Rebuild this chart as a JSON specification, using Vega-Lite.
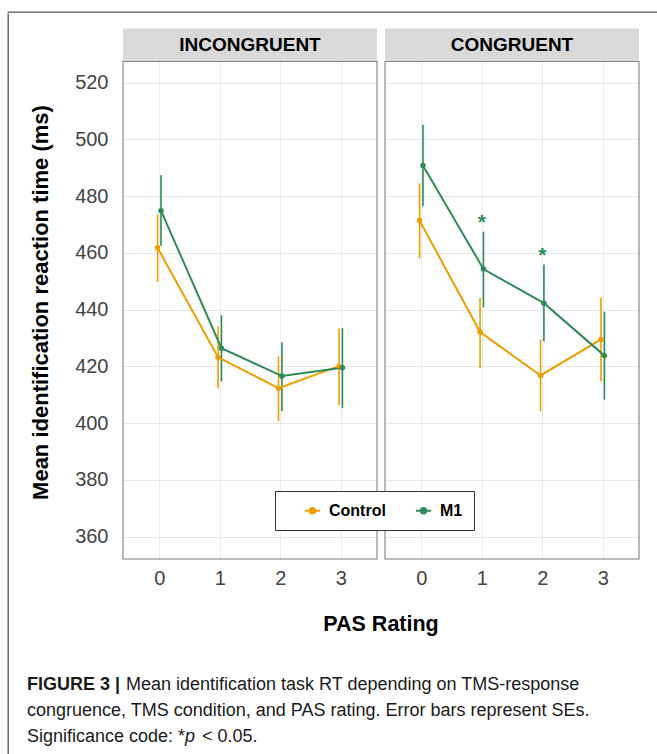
{
  "$schema": "https://vega.github.io/schema/vega-lite/v6.json",
  "background": "white",
  "padding": {"left": 7, "top": 11, "right": 0, "bottom": 0},
  "autosize": {"type": "pad"},
  "config": {
    "font": "Liberation Sans",
    "view": {"stroke": null},
    "legend": {
      "orient": "none",
      "legendX": 267,
      "legendY": 479,
      "direction": "horizontal",
      "strokeColor": "#333333",
      "fillColor": "white",
      "padding": 11,
      "labelFontSize": 16,
      "labelFontWeight": "bold",
      "labelColor": "black",
      "symbolSize": 225,
      "symbolStrokeWidth": 2,
      "symbolOffset": 18,
      "columnPadding": 11,
      "labelOffset": 8,
      "symbolType": "M-1,0H1M-0.36,0A0.36,0.36,0,1,1,0.36,0A0.36,0.36,0,1,1,-0.36,0Z"
    }
  },
  "datasets": {
    "main": [
      {"kind": "strip", "panel": "INCONGRUENT"},
      {"kind": "strip", "panel": "CONGRUENT"},
      {"kind": "rt", "panel": "INCONGRUENT", "cond": "Control", "pas": 0, "mean": 461.8, "lo": 449.8, "hi": 473.6},
      {"kind": "rt", "panel": "INCONGRUENT", "cond": "Control", "pas": 1, "mean": 423.2, "lo": 412.3, "hi": 434.2},
      {"kind": "rt", "panel": "INCONGRUENT", "cond": "Control", "pas": 2, "mean": 412.3, "lo": 400.8, "hi": 423.6},
      {"kind": "rt", "panel": "INCONGRUENT", "cond": "Control", "pas": 3, "mean": 420.1, "lo": 406.3, "hi": 433.4},
      {"kind": "rt", "panel": "INCONGRUENT", "cond": "M1", "pas": 0, "mean": 474.9, "lo": 462.5, "hi": 487.4},
      {"kind": "rt", "panel": "INCONGRUENT", "cond": "M1", "pas": 1, "mean": 426.4, "lo": 414.7, "hi": 438.1},
      {"kind": "rt", "panel": "INCONGRUENT", "cond": "M1", "pas": 2, "mean": 416.6, "lo": 404.2, "hi": 428.5},
      {"kind": "rt", "panel": "INCONGRUENT", "cond": "M1", "pas": 3, "mean": 419.5, "lo": 405.3, "hi": 433.5},
      {"kind": "rt", "panel": "CONGRUENT", "cond": "Control", "pas": 0, "mean": 471.4, "lo": 458.1, "hi": 484.5},
      {"kind": "rt", "panel": "CONGRUENT", "cond": "Control", "pas": 1, "mean": 432.1, "lo": 419.4, "hi": 444.2},
      {"kind": "rt", "panel": "CONGRUENT", "cond": "Control", "pas": 2, "mean": 416.8, "lo": 404.2, "hi": 429.5},
      {"kind": "rt", "panel": "CONGRUENT", "cond": "Control", "pas": 3, "mean": 429.5, "lo": 414.7, "hi": 444.3},
      {"kind": "rt", "panel": "CONGRUENT", "cond": "M1", "pas": 0, "mean": 490.8, "lo": 476.5, "hi": 505.2},
      {"kind": "rt", "panel": "CONGRUENT", "cond": "M1", "pas": 1, "mean": 454.3, "lo": 440.8, "hi": 467.5},
      {"kind": "rt", "panel": "CONGRUENT", "cond": "M1", "pas": 2, "mean": 442.3, "lo": 428.8, "hi": 455.9},
      {"kind": "rt", "panel": "CONGRUENT", "cond": "M1", "pas": 3, "mean": 423.8, "lo": 408.3, "hi": 439.3},
      {"kind": "star", "panel": "CONGRUENT", "pas": 1, "ystar": 470.5, "label": "*"},
      {"kind": "star", "panel": "CONGRUENT", "pas": 2, "ystar": 459, "label": "*"}
    ],
    "caption": [
      {"line": 1, "seg": "bold", "text": "FIGURE 3 |"},
      {"line": 1, "seg": "rest1", "text": "Mean identification task RT depending on TMS-response"},
      {"line": 2, "seg": "plain", "text": "congruence, TMS condition, and PAS rating. Error bars represent SEs."},
      {"line": 3, "seg": "plain", "text": "Significance code: *"},
      {"line": 3, "seg": "ital", "text": "p"},
      {"line": 3, "seg": "rest3", "text": "< 0.05."}
    ]
  },
  "spacing": 0,
  "vconcat": [
    {
      "width": 650,
      "height": 0.01,
      "data": {"values": [{}]},
      "mark": {"type": "point", "opacity": 0, "size": 0},
      "encoding": {},
      "view": {"stroke": "#555555", "strokeWidth": 1.3}
    },
    {
      "spacing": 18,
      "hconcat": [
        {
          "width": 0.01,
          "height": 743,
          "data": {"values": [{}]},
          "mark": {"type": "point", "opacity": 0, "size": 0},
          "encoding": {},
          "view": {"stroke": "#555555", "strokeWidth": 1.3}
        },
        {
          "spacing": 36,
          "vconcat": [
            {
              "data": {"name": "main"},
              "facet": {
                "column": {
                  "field": "panel",
                  "type": "nominal",
                  "sort": ["INCONGRUENT", "CONGRUENT"],
                  "title": "PAS Rating",
                  "header": {
                    "labels": false,
                    "titleOrient": "bottom",
                    "titleFontSize": 21.5,
                    "titleFontWeight": "bold",
                    "titleColor": "black",
                    "titlePadding": 16
                  }
                }
              },
              "spacing": {"column": 6},
              "spec": {
                "width": 254,
                "height": 545,
                "layer": [
                  {
                    "transform": [{"filter": "datum.kind === 'strip'"}],
                    "mark": {"type": "rect", "fill": "#d9d9d9"},
                    "encoding": {
                      "x": {"datum": -0.6, "type": "quantitative", "scale": {"domain": [-0.6, 3.6], "nice": false, "zero": false}, "title": null},
                      "x2": {"datum": 3.6},
                      "y": {"datum": 527.5, "type": "quantitative", "scale": {"domain": [352.1, 544.24], "nice": false, "zero": false}, "title": "Mean identification reaction time (ms)"},
                      "y2": {"datum": 539.2}
                    }
                  },
                  {
                    "transform": [{"filter": "datum.kind === 'strip'"}],
                    "mark": {"type": "rect", "fill": "white"},
                    "encoding": {
                      "x": {"datum": -0.6, "type": "quantitative", "title": null},
                      "x2": {"datum": 3.6},
                      "y": {"datum": 539.2, "type": "quantitative", "title": "Mean identification reaction time (ms)"},
                      "y2": {"datum": 544.24}
                    }
                  },
                  {
                    "transform": [{"filter": "datum.kind === 'strip'"}],
                    "mark": {"type": "text", "fontSize": 19, "fontWeight": "bold", "color": "black", "baseline": "middle", "align": "center"},
                    "encoding": {
                      "x": {"datum": 1.5, "type": "quantitative", "title": null},
                      "y": {"datum": 533.35, "type": "quantitative", "title": "Mean identification reaction time (ms)"},
                      "text": {"field": "panel"}
                    }
                  },
                  {
                    "transform": [{"filter": "datum.kind === 'strip'"}],
                    "mark": {"type": "rect", "fill": "transparent", "stroke": "#7f7f7f", "strokeWidth": 1.1},
                    "encoding": {
                      "x": {"datum": -0.6, "type": "quantitative", "title": null},
                      "x2": {"datum": 3.6},
                      "y": {"datum": 352.1, "type": "quantitative", "title": "Mean identification reaction time (ms)"},
                      "y2": {"datum": 527.5}
                    }
                  },
                  {
                    "transform": [{"filter": "datum.kind === 'rt' && datum.cond === 'Control'"}],
                    "mark": {"type": "rule", "strokeWidth": 1.6, "xOffset": -1.7},
                    "encoding": {
                      "x": {
                        "field": "pas", "type": "quantitative", "title": null,
                        "axis": {"values": [0, 1, 2, 3], "format": "d", "grid": true, "gridColor": "#ebebeb", "gridWidth": 1, "ticks": false, "domain": false, "labelFontSize": 20, "labelColor": "#444444", "labelPadding": 8, "title": null}
                      },
                      "y": {
                        "field": "lo", "type": "quantitative", "title": "Mean identification reaction time (ms)",
                        "axis": {
                          "values": [360, 370, 380, 390, 400, 410, 420, 430, 440, 450, 460, 470, 480, 490, 500, 510, 520],
                          "labelExpr": "datum.value % 20 === 0 ? datum.label : ''",
                          "grid": true,
                          "gridColor": {"condition": {"test": "datum.value % 20 === 0", "value": "#e8e8e8"}, "value": "#f4f4f4"},
                          "gridWidth": {"condition": {"test": "datum.value % 20 === 0", "value": 1.1}, "value": 0.7},
                          "ticks": false,
                          "domain": false,
                          "labelFontSize": 20,
                          "labelColor": "#444444",
                          "labelPadding": 14,
                          "titleFontSize": 22,
                          "titleFontWeight": "bold",
                          "titleColor": "black",
                          "titlePadding": 22,
                          "titleY": 288
                        }
                      },
                      "y2": {"field": "hi"},
                      "color": {"field": "cond", "type": "nominal", "scale": {"domain": ["Control", "M1"], "range": ["#EC9E00", "#2E8B57"]},
                        "legend": {"title": null,
                          "encode": {"symbols": {"update": {"fill": {"scale": "color", "field": "value"}, "stroke": {"scale": "color", "field": "value"}, "strokeWidth": {"value": 2}}}}}
                      }
                    }
                  },
                  {
                    "transform": [{"filter": "datum.kind === 'rt' && datum.cond === 'M1'"}],
                    "mark": {"type": "rule", "strokeWidth": 1.6, "xOffset": 1.7},
                    "encoding": {
                      "x": {"field": "pas", "type": "quantitative", "title": null},
                      "y": {"field": "lo", "type": "quantitative", "title": "Mean identification reaction time (ms)"},
                      "y2": {"field": "hi"},
                      "color": {"field": "cond", "type": "nominal"}
                    }
                  },
                  {
                    "transform": [{"filter": "datum.kind === 'rt' && datum.cond === 'Control'"}],
                    "mark": {"type": "line", "strokeWidth": 2, "xOffset": -1.7},
                    "encoding": {
                      "x": {"field": "pas", "type": "quantitative", "title": null},
                      "y": {"field": "mean", "type": "quantitative", "title": "Mean identification reaction time (ms)"},
                      "color": {"field": "cond", "type": "nominal"}
                    }
                  },
                  {
                    "transform": [{"filter": "datum.kind === 'rt' && datum.cond === 'M1'"}],
                    "mark": {"type": "line", "strokeWidth": 2, "xOffset": 1.7},
                    "encoding": {
                      "x": {"field": "pas", "type": "quantitative", "title": null},
                      "y": {"field": "mean", "type": "quantitative", "title": "Mean identification reaction time (ms)"},
                      "color": {"field": "cond", "type": "nominal"}
                    }
                  },
                  {
                    "transform": [{"filter": "datum.kind === 'rt' && datum.cond === 'Control'"}],
                    "mark": {"type": "point", "filled": true, "opacity": 1, "size": 30, "xOffset": -1.7},
                    "encoding": {
                      "x": {"field": "pas", "type": "quantitative", "title": null},
                      "y": {"field": "mean", "type": "quantitative", "title": "Mean identification reaction time (ms)"},
                      "color": {"field": "cond", "type": "nominal"}
                    }
                  },
                  {
                    "transform": [{"filter": "datum.kind === 'rt' && datum.cond === 'M1'"}],
                    "mark": {"type": "point", "filled": true, "opacity": 1, "size": 30, "xOffset": 1.7},
                    "encoding": {
                      "x": {"field": "pas", "type": "quantitative", "title": null},
                      "y": {"field": "mean", "type": "quantitative", "title": "Mean identification reaction time (ms)"},
                      "color": {"field": "cond", "type": "nominal"}
                    }
                  },
                  {
                    "transform": [{"filter": "datum.kind === 'star'"}],
                    "mark": {"type": "text", "fontSize": 21, "fontWeight": "bold", "color": "#2E8B57", "baseline": "middle", "align": "center"},
                    "encoding": {
                      "x": {"field": "pas", "type": "quantitative", "title": null},
                      "y": {"field": "ystar", "type": "quantitative", "title": "Mean identification reaction time (ms)"},
                      "text": {"field": "label"}
                    }
                  }
                ]
              }
            },
            {
              "width": 600,
              "height": 78,
              "data": {"name": "caption"},
              "encoding": {
                "x": {"datum": 0, "type": "quantitative", "scale": {"domain": [0, 1]}, "axis": null},
                "y": {"field": "line", "type": "ordinal", "scale": {"domain": [1, 2, 3]}, "axis": null},
                "text": {"field": "text"}
              },
              "layer": [
                {
                  "transform": [{"filter": "datum.seg === 'bold'"}],
                  "mark": {"type": "text", "align": "left", "baseline": "middle", "fontSize": 18, "fontWeight": "bold", "color": "#1a1a1a", "dx": -96}
                },
                {
                  "transform": [{"filter": "datum.seg === 'rest1'"}],
                  "mark": {"type": "text", "align": "left", "baseline": "middle", "fontSize": 18, "color": "#1a1a1a", "dx": 3}
                },
                {
                  "transform": [{"filter": "datum.seg === 'plain'"}],
                  "mark": {"type": "text", "align": "left", "baseline": "middle", "fontSize": 18, "color": "#1a1a1a", "dx": -96}
                },
                {
                  "transform": [{"filter": "datum.seg === 'ital'"}],
                  "mark": {"type": "text", "align": "left", "baseline": "middle", "fontSize": 18, "fontStyle": "italic", "color": "#1a1a1a", "dx": 62}
                },
                {
                  "transform": [{"filter": "datum.seg === 'rest3'"}],
                  "mark": {"type": "text", "align": "left", "baseline": "middle", "fontSize": 18, "color": "#1a1a1a", "dx": 79}
                }
              ]
            }
          ]
        }
      ]
    }
  ]
}
